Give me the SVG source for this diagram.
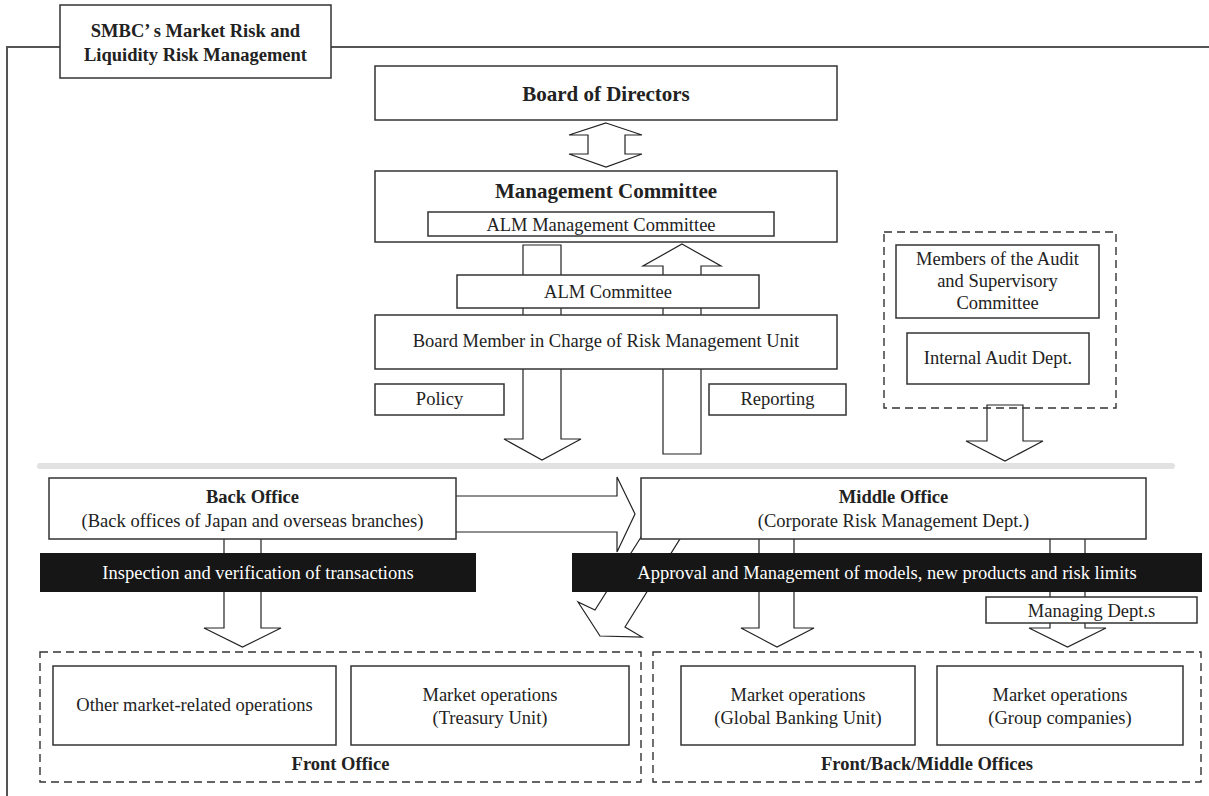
<svg xmlns="http://www.w3.org/2000/svg" width="1209" height="796" viewBox="0 0 1209 796">
<style>
text{font-family:"Liberation Serif","Times New Roman",serif;fill:#222;text-anchor:middle}
.r{font-size:18.5px}
.b{font-size:18.5px;font-weight:bold}
.h{font-size:21px;font-weight:bold}
.w{fill:#fff}
.box{fill:#fff;stroke:#333;stroke-width:1.5}
.dash{fill:none;stroke:#333;stroke-width:1.4;stroke-dasharray:8 5}
.arr{fill:#fff;stroke:#222;stroke-width:1.2;stroke-linejoin:miter}
.bar{fill:#161616}
.frame{fill:none;stroke:#555;stroke-width:2}
</style>
<rect width="1209" height="796" fill="#fff"/>
<g id="frame">
<polyline class="frame" points="7,796 7,47 60,47"/>
<line class="frame" x1="331" y1="47" x2="1209" y2="47"/>
<line x1="40" y1="466" x2="1172" y2="466" stroke="#e2e2e2" stroke-width="6" stroke-linecap="round"/>
</g>
<g id="connectors">
<polygon class="arr" points="606,123 642,135 625,135 625,154 642,154 606,167 569,154 588,154 588,135 569,135"/>
<polygon class="arr" points="523,245 561,245 561,439 581,439 542,460 504,439 523,439"/>
<polygon class="arr" points="682,244 721,266 701,266 701,454 663,454 663,266 643,266"/>
<polygon class="arr" points="987,405 1023,405 1023,441 1043,441 1005,461 966,441 987,441"/>
<polygon class="arr" points="450,496 617,496 617,477 635,514 617,552 617,532 450,532"/>
<polygon class="arr" points="643,534 595,610 578,602 600,636 642,637 625,627 683,534"/>
<polygon class="arr" points="224,535 261,535 261,628 281,628 242.5,647 204,628 224,628"/>
<polygon class="arr" points="759,535 794,535 794,628 814,628 777,647 741,628 759,628"/>
<polygon class="arr" points="1050,535 1085,535 1085,628 1106,628 1067.5,647 1029,628 1050,628"/>
</g>
<g id="title">
<rect class="box" x="60" y="5" width="271" height="73"/>
<text class="b" x="195.5" y="37">SMBC’ s Market Risk and</text>
<text class="b" x="195.5" y="61">Liquidity Risk Management</text>
</g>
<g id="board">
<rect class="box" x="375" y="66" width="462" height="54"/>
<text class="h" x="606" y="101">Board of Directors</text>
</g>
<g id="mgmt">
<rect class="box" x="375" y="171" width="462" height="71"/>
<text class="h" x="606" y="198">Management Committee</text>
<rect class="box" x="428" y="212" width="346" height="24"/>
<text class="r" x="601" y="231">ALM Management Committee</text>
</g>
<g id="alm">
<rect class="box" x="457" y="275" width="302" height="33"/>
<text class="r" x="608" y="298">ALM Committee</text>
</g>
<g id="boardmember">
<rect class="box" x="375" y="315" width="462" height="54"/>
<text class="r" x="606" y="347">Board Member in Charge of Risk Management Unit</text>
</g>
<g id="policy">
<rect class="box" x="375" y="384" width="129" height="31"/>
<text class="r" x="439.5" y="405">Policy</text>
</g>
<g id="reporting">
<rect class="box" x="709" y="384" width="137" height="31"/>
<text class="r" x="777.5" y="405">Reporting</text>
</g>
<g id="audit">
<rect class="dash" x="884" y="232" width="232" height="176"/>
<rect class="box" x="896" y="245" width="203" height="73"/>
<text class="r" x="997.5" y="265">Members of the Audit</text>
<text class="r" x="997.5" y="287">and Supervisory</text>
<text class="r" x="997.5" y="309">Committee</text>
<rect class="box" x="907" y="333" width="182" height="51"/>
<text class="r" x="998" y="364">Internal Audit Dept.</text>
</g>
<g id="backoffice">
<rect class="box" x="49" y="478" width="407" height="61"/>
<text class="b" x="252.5" y="503">Back Office</text>
<text class="r" x="252.5" y="527">(Back offices of Japan and overseas branches)</text>
</g>
<g id="middleoffice">
<rect class="box" x="641" y="478" width="505" height="61"/>
<text class="b" x="893.5" y="503">Middle Office</text>
<text class="r" x="893.5" y="527">(Corporate Risk Management Dept.)</text>
</g>
<g id="inspection">
<rect class="bar" x="40" y="553" width="436" height="39"/>
<text class="r w" x="258" y="579">Inspection and verification of transactions</text>
</g>
<g id="approval">
<rect class="bar" x="572" y="553" width="630" height="39"/>
<text class="r w" x="887" y="579">Approval and Management of models, new products and risk limits</text>
</g>
<g id="managing">
<rect class="box" x="986" y="597" width="211" height="26"/>
<text class="r" x="1091.5" y="617">Managing Dept.s</text>
</g>
<g id="frontoffice">
<rect class="dash" x="40" y="652" width="601" height="130"/>
<rect class="box" x="53" y="666" width="283" height="79"/>
<text class="r" x="194.5" y="711">Other market-related operations</text>
<rect class="box" x="351" y="666" width="278" height="79"/>
<text class="r" x="490" y="701">Market operations</text>
<text class="r" x="490" y="724">(Treasury Unit)</text>
<text class="b" x="340.5" y="770">Front Office</text>
</g>
<g id="fbm">
<rect class="dash" x="653" y="652" width="548" height="130"/>
<rect class="box" x="681" y="666" width="234" height="79"/>
<text class="r" x="798" y="701">Market operations</text>
<text class="r" x="798" y="724">(Global Banking Unit)</text>
<rect class="box" x="937" y="666" width="246" height="79"/>
<text class="r" x="1060" y="701">Market operations</text>
<text class="r" x="1060" y="724">(Group companies)</text>
<text class="b" x="927" y="770">Front/Back/Middle Offices</text>
</g>
</svg>
